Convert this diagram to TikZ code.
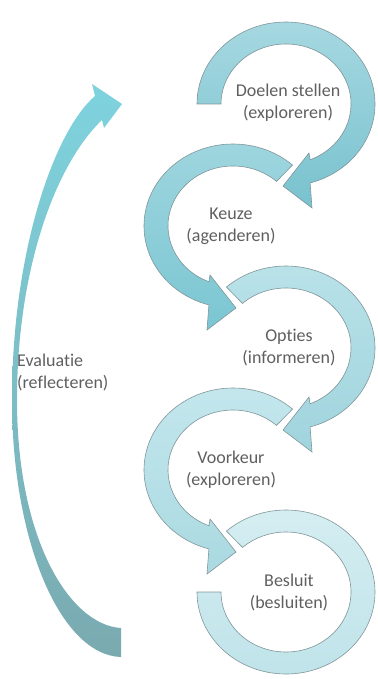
\documentclass[tikz,border=0pt]{standalone}
\usepackage{fontspec}
\setmainfont{Carlito}[Ligatures=NoCommon]
\newcommand{\nolig}{\kern0pt{}}
\definecolor{textgrey}{RGB}{95,95,95}
\definecolor{arcedge}{RGB}{128,150,154}
\definecolor{c1t}{RGB}{166,216,225}
\definecolor{c1b}{RGB}{120,194,206}
\definecolor{c2t}{RGB}{160,214,223}
\definecolor{c2b}{RGB}{122,198,210}
\definecolor{c3t}{RGB}{186,226,233}
\definecolor{c3b}{RGB}{160,212,221}
\definecolor{c4t}{RGB}{196,231,237}
\definecolor{c4b}{RGB}{170,217,225}
\definecolor{c5t}{RGB}{214,238,242}
\definecolor{c5b}{RGB}{190,227,233}
\definecolor{evt}{RGB}{126,211,222}
\definecolor{evm}{RGB}{122,200,212}
\definecolor{evb}{RGB}{122,170,176}
\begin{document}
\begin{tikzpicture}[x=1pt,y=1pt,
  arcline/.style={draw=arcedge, line width=0.6pt, line join=miter},
  lbl/.style={inner sep=0pt, align=center, text=textgrey, font=\fontsize{18}{22}\selectfont}]
\useasboundingbox (0,0) rectangle (377,-679);
\coordinate (c1) at (286,-104);
\coordinate (c2) at (233,-226);
\coordinate (c3) at (286,-348);
\coordinate (c4) at (233,-470);
\coordinate (c5) at (286,-592);

% evaluation crescent arrow
\shade[top color=evt, middle color=evm, bottom color=evb]
  (121,-657) .. controls (60,-655) and (12,-540) .. (12,-400)
  .. controls (12,-250) and (55,-130) .. (95,-96)
  -- (92,-84) -- (122,-104) -- (104,-128) -- (102,-120)
  .. controls (55,-165) and (17,-270) .. (17,-400)
  .. controls (17,-540) and (70,-625) .. (121,-628) -- cycle;

% arc 5
\begin{scope}[shift={(c5)}]
\draw[arcline, top color=c5t, bottom color=c5b]
  (132:89 and 82) arc[start angle=132, end angle=-180, x radius=89, y radius=82]
  -- (-180:65 and 60) arc[start angle=-180, end angle=132, x radius=65, y radius=60] -- cycle;
\end{scope}
% arc 4
\begin{scope}[shift={(c4)}]
\draw[arcline, top color=c4t, bottom color=c4b]
  (48:89 and 82) arc[start angle=48, end angle=254.3, x radius=89, y radius=82]
  -- (-26,-104) -- (3,-82) -- (-23,-49)
  -- (248.3:65 and 60) arc[start angle=248.3, end angle=48, x radius=65, y radius=60] -- cycle;
\end{scope}
% arc 3
\begin{scope}[shift={(c3)}]
\draw[arcline, top color=c3t, bottom color=c3b]
  (132:89 and 82) arc[start angle=132, end angle=-74.3, x radius=89, y radius=82]
  -- (26,-104) -- (-3,-82) -- (23,-49)
  -- (-68.3:65 and 60) arc[start angle=-68.3, end angle=132, x radius=65, y radius=60] -- cycle;
\end{scope}
% arc 2
\begin{scope}[shift={(c2)}]
\draw[arcline, top color=c2t, bottom color=c2b]
  (48:89 and 82) arc[start angle=48, end angle=254.3, x radius=89, y radius=82]
  -- (-26,-104) -- (3,-82) -- (-23,-49)
  -- (248.3:65 and 60) arc[start angle=248.3, end angle=48, x radius=65, y radius=60] -- cycle;
\end{scope}
% arc 1
\begin{scope}[shift={(c1)}]
\draw[arcline, top color=c1t, bottom color=c1b]
  (180:89 and 82) arc[start angle=180, end angle=-74.3, x radius=89, y radius=82]
  -- (26,-104) -- (-3,-82) -- (23,-49)
  -- (-68.3:65 and 60) arc[start angle=-68.3, end angle=180, x radius=65, y radius=60] -- cycle;
\end{scope}

\node[lbl] (t1) at (288,-103) {Doelen stellen\\(exploreren)};
\node[lbl] (t2) at (231,-226) {Keuze\\(agenderen)};
\node[lbl] (t3) at (289,-348) {Opt\nolig ies\\(informeren)};
\node[lbl] (t4) at (231,-470) {Voorkeur\\(exploreren)};
\node[lbl] (t5) at (289,-592) {Besluit\\(besluiten)};
\node[lbl, align=left, anchor=west] (t0) at (17,-372) {Evaluat\nolig ie\\(reflecteren)};
\end{tikzpicture}
\end{document}
